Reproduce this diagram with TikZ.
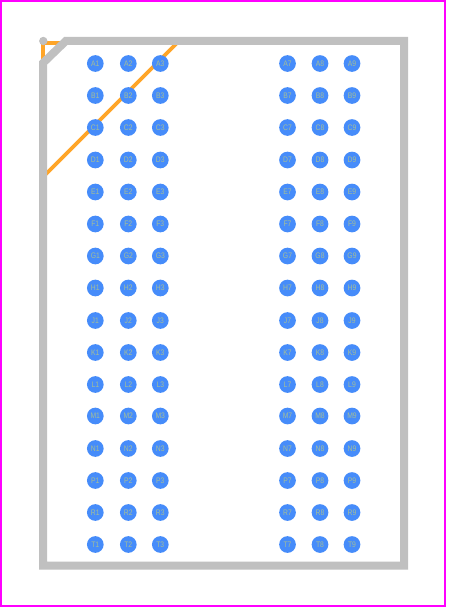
\documentclass[tikz,border=0pt]{standalone}
\usepackage{fontspec}
\setmainfont{Liberation Sans}
\newfontfamily\padfont[FakeStretch=0.85]{Liberation Sans}
\definecolor{frame}{RGB}{255,0,255}
\definecolor{outline}{RGB}{192,192,192}
\definecolor{mark}{RGB}{255,165,40}
\definecolor{pad}{RGB}{70,140,250}
\definecolor{padtext}{RGB}{165,190,150}
\tikzset{
  padnode/.style={circle,fill=pad,draw=none,minimum size=16.7pt,inner sep=0pt,
    text=padtext,font=\padfont\fontsize{8}{8}\selectfont},
  outlineline/.style={draw=outline,line width=8pt,line cap=butt,line join=miter},
  markline/.style={draw=mark,line width=3.6pt},
}
\begin{document}
\begin{tikzpicture}[x=1pt,y=-1pt]
\useasboundingbox (0,0) rectangle (448,608);
\fill[white] (0,0) rectangle (448,608);
\draw[frame,line width=2pt] (1,1) rectangle (445,606);
% orange marks
\draw[markline] (43,63) -- (43,43) -- (66,43);
\draw[markline] (43,177) -- (179,41);
% outline
\draw[outlineline] (66,40.8) -- (404,40.8) -- (404,565.5) -- (43,565.5) -- (43,63) -- cycle;
\fill[outline] (43.3,41) circle[radius=4.2];
% pads
\foreach \r/\ry in {A/63.5,B/95.5,C/127.5,D/160,E/192,F/224,G/256,H/288,J/320.5,K/352.5,L/384.5,M/416,N/448.5,P/480.5,R/512.5,T/544.5}{
  \foreach \c/\cx in {1/95.3,2/128.3,3/160.3,7/287.5,8/320,9/352}{
    \node[padnode] (pad\r\c) at (\cx,\ry) {\r\c};
  }
}
\end{tikzpicture}
\end{document}
